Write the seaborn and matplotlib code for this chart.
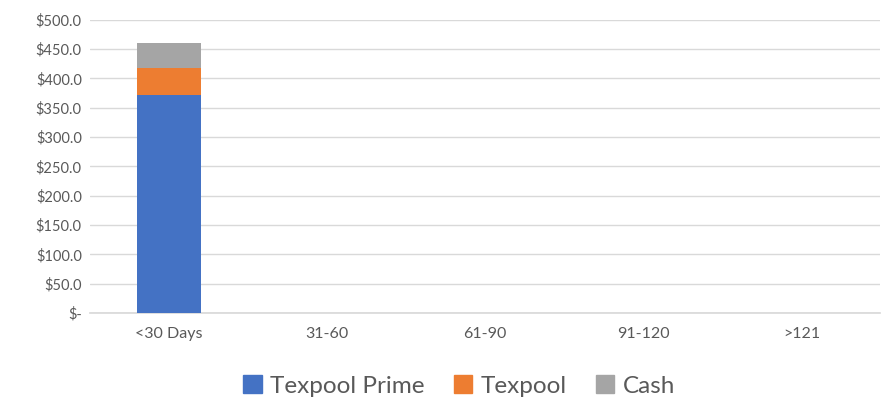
import matplotlib
matplotlib.use("Agg")
import matplotlib.pyplot as plt
import seaborn as sns
import numpy as np
import pandas as pd

# values (millions)
categories = ["<30 Days", "31-60", "61-90", "91-120", ">121"]
texpool_prime = [371.7, 0, 0, 0, 0]
texpool = [45.9, 0, 0, 0, 0]
cash = [42.6, 0, 0, 0, 0]

series_names = ["Texpool Prime", "Texpool", "Cash"]
colors = ["#4472C4", "#ED7D31", "#A5A5A5"]

sns.set_theme(style="white")
plt.rcParams['font.family'] = ['Lato', 'DejaVu Sans']

df = pd.DataFrame({"cat": categories, "Texpool Prime": texpool_prime,
                   "Texpool": texpool, "Cash": cash})
# cumulative tops for stacking
df["top_prime"] = df["Texpool Prime"]
df["top_texpool"] = df["top_prime"] + df["Texpool"]
df["top_cash"] = df["top_texpool"] + df["Cash"]

fig = plt.figure(figsize=(8.83, 4.03), dpi=100)
ax = fig.add_axes([0.102, 0.223, 0.895, 0.728])

# draw from tallest to shortest so each layer shows
for col, c in zip(["top_cash", "top_texpool", "top_prime"], colors[::-1]):
    sns.barplot(data=df, x="cat", y=col, color=c, width=0.41, ax=ax,
                saturation=1, linewidth=0, zorder=3)

ax.set_ylim(0, 500)
ticks = np.arange(0, 501, 50)
ax.set_yticks(ticks)
ax.set_yticklabels(["$-" if t == 0 else f"${t:.1f}" for t in ticks])
ax.yaxis.grid(True, color="#D9D9D9", linewidth=1, zorder=0)
ax.set_axisbelow(True)
for s in ["top", "right", "left"]:
    ax.spines[s].set_visible(False)
ax.spines["bottom"].set_color("#D9D9D9")
ax.tick_params(axis="both", length=0, colors="#595959", labelsize=10.5)
ax.tick_params(axis="x", pad=10, labelsize=11.5)
ax.tick_params(axis="y", pad=6)
ax.set_xlabel("")
ax.set_ylabel("")
ax.set_xlim(-0.5, 4.5)

handles = [plt.Rectangle((0, 0), 1, 1, color=c) for c in colors]
fig.legend(handles, series_names, loc="center", bbox_to_anchor=(0.52, 0.042),
           ncol=3, frameon=False, fontsize=17.5, handlelength=0.75, handleheight=0.75,
           handletextpad=0.35, columnspacing=1.2, labelcolor="#595959")

fig.savefig("out.png", dpi=100)
